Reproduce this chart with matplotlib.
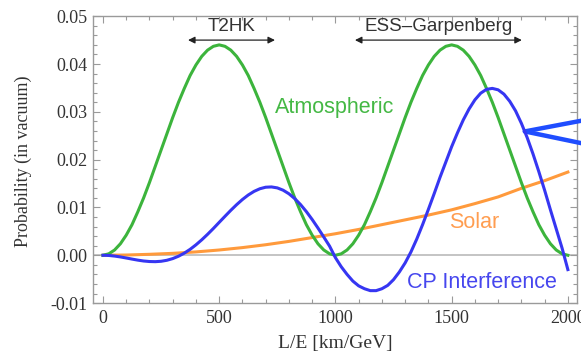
import matplotlib
matplotlib.use('Agg')
import matplotlib.pyplot as plt
from matplotlib.ticker import MultipleLocator, FormatStrFormatter

# L/E grid (km/GeV), every 25
le = [0, 25, 50, 75, 100, 125, 150, 175, 200, 225, 250, 275, 300, 325, 350, 375, 400, 425, 450, 475,
      500, 525, 550, 575, 600, 625, 650, 675, 700, 725, 750, 775, 800, 825, 850, 875, 900, 925, 950, 975,
      1000, 1025, 1050, 1075, 1100, 1125, 1150, 1175, 1200, 1225, 1250, 1275, 1300, 1325, 1350, 1375,
      1400, 1425, 1450, 1475, 1500, 1525, 1550, 1575, 1600, 1625, 1650, 1675, 1700, 1725, 1750, 1775,
      1800, 1825, 1850, 1875, 1900, 1925, 1950, 1975, 2000]

atmospheric = [0, 0.0003, 0.0011, 0.0024, 0.0042, 0.0064, 0.0091, 0.0120, 0.0152, 0.0186,
               0.0220, 0.0254, 0.0288, 0.0320, 0.0349, 0.0376, 0.0398, 0.0416, 0.0429, 0.0437,
               0.0440, 0.0437, 0.0429, 0.0416, 0.0398, 0.0376, 0.0349, 0.0320, 0.0288, 0.0254,
               0.0220, 0.0186, 0.0152, 0.0120, 0.0091, 0.0064, 0.0042, 0.0024, 0.0011, 0.0003,
               0, 0.0003, 0.0011, 0.0024, 0.0042, 0.0064, 0.0091, 0.0120, 0.0152, 0.0186,
               0.0220, 0.0254, 0.0288, 0.0320, 0.0349, 0.0376, 0.0398, 0.0416, 0.0429, 0.0437,
               0.0440, 0.0437, 0.0429, 0.0416, 0.0398, 0.0376, 0.0349, 0.0320, 0.0288, 0.0254,
               0.0220, 0.0186, 0.0152, 0.0120, 0.0091, 0.0064, 0.0042, 0.0024, 0.0011, 0.0003, 0]

cp_interference = [0, -0.00004, -0.00017, -0.00035, -0.00057, -0.0008, -0.00102, -0.0012, -0.00131, -0.00134,
                   -0.00126, -0.00105, -0.0007, -0.0002, 0.00045, 0.00124, 0.00218, 0.00323, 0.00438, 0.0056,
                   0.00688, 0.00815, 0.0094, 0.01058, 0.01166, 0.0126, 0.01336, 0.01391, 0.01423, 0.01429,
                   0.01409, 0.01361, 0.01286, 0.01185, 0.0106, 0.00913, 0.00748, 0.00569, 0.00381, 0.0019,
                   -0.0005, -0.0024, -0.0040, -0.0054, -0.0064, -0.0070, -0.0074, -0.0074, -0.0070, -0.0063,
                   -0.0051, -0.0035, -0.0016, 0.0007, 0.0034, 0.0064, 0.0096, 0.0129, 0.0163, 0.0195,
                   0.0227, 0.0256, 0.0283, 0.0306, 0.0325, 0.0339, 0.0347, 0.0349, 0.0346, 0.0337,
                   0.0322, 0.0302, 0.0276, 0.0246, 0.0212, 0.0175, 0.0136, 0.0095, 0.0055, 0.0015, -0.0030]

le_solar = [0, 100, 200, 300, 400, 500, 600, 700, 800, 900, 1000,
            1100, 1200, 1300, 1400, 1500, 1600, 1700, 1800, 1900, 2000]
solar = [0, 0.00005, 0.0002, 0.0004, 0.0007, 0.0011, 0.0016, 0.0022, 0.0029, 0.0037, 0.0045,
         0.0054, 0.0064, 0.0074, 0.0084, 0.0095, 0.0108, 0.0122, 0.0140, 0.0156, 0.0174]

xticks = [0, 500, 1000, 1500, 2000]
yticks = [-0.01, 0.00, 0.01, 0.02, 0.03, 0.04, 0.05]

green = '#3cb43c'
blue = '#3636f2'
orange = '#ff9a3c'
frame = '#9a9a9a'

fig = plt.figure(figsize=(5.81, 3.52), dpi=100)
ax = fig.add_axes([0.160, 0.139, 0.833, 0.815])

ax.axhline(0, color='#c4c4c4', lw=1.4, zorder=1)
ax.plot(le, atmospheric, color=green, lw=2.2, zorder=3)
ax.plot(le_solar, solar, color=orange, lw=2.2, zorder=2)
ax.plot(le, cp_interference, color=blue, lw=2.2, zorder=4)

ax.set_xlim(-43, 2039)
ax.set_ylim(-0.01, 0.05)
ax.set_xticks(xticks)
ax.set_yticks(yticks)
ax.xaxis.set_minor_locator(MultipleLocator(100))
ax.yaxis.set_minor_locator(MultipleLocator(0.002))
ax.yaxis.set_major_formatter(FormatStrFormatter('%.2f'))

for s in ax.spines.values():
    s.set_color(frame)
    s.set_linewidth(1.0)
ax.tick_params(which='both', direction='in', top=True, right=True, color=frame,
               labelcolor='#333333', labelsize=13, width=0.8)
ax.tick_params(axis='y', which='major', length=5, pad=4)
ax.tick_params(axis='x', which='major', length=5, pad=5)
ax.tick_params(which='minor', length=3)
for lab in ax.get_xticklabels() + ax.get_yticklabels():
    lab.set_family('Liberation Serif')

ax.set_ylabel('Probability (in vacuum)', family='Liberation Serif', fontsize=13, color='#333333')
ax.set_xlabel('L/E [km/GeV]', family='Liberation Serif', fontsize=14, color='#333333')
ax.yaxis.set_label_coords(-0.126, 0.495)
ax.xaxis.set_label_coords(0.5, -0.11)

# experiment ranges
ax.annotate('', xy=(366, 0.045), xytext=(740, 0.045),
            arrowprops=dict(arrowstyle='<|-|>', color='#222222', lw=0.9, mutation_scale=10,
                            shrinkA=0, shrinkB=0))
ax.text(553, 0.0478, 'T2HK', family='Liberation Sans', fontsize=13.5, color='#333333',
        ha='center', va='center')
ax.annotate('', xy=(1084, 0.045), xytext=(1802, 0.045),
            arrowprops=dict(arrowstyle='<|-|>', color='#222222', lw=0.9, mutation_scale=10,
                            shrinkA=0, shrinkB=0))
ax.text(1443, 0.0478, 'ESS\u2013Garpenberg', family='Liberation Sans', fontsize=13.5,
        color='#333333', ha='center', va='center')

# curve labels
ax.text(998, 0.0308, 'Atmospheric', family='Liberation Sans', fontsize=15.5, color='#44b844',
        ha='center', va='center')
ax.text(1596, 0.0069, 'Solar', family='Liberation Sans', fontsize=15.5, color='#ff9d50',
        ha='center', va='center')
ax.text(1630, -0.0056, 'CP Interference', family='Liberation Sans', fontsize=15.5, color='#4646ee',
        ha='center', va='center')

# callout pointing at the CP curve
for ytxt in (0.66, 0.59):
    ax.annotate('', xy=(1815, 0.0259), xycoords='data', xytext=(1.01, ytxt),
                textcoords='figure fraction',
                arrowprops=dict(arrowstyle='-', color='#1f4dff', lw=3.2, shrinkA=0, shrinkB=0),
                annotation_clip=False)

fig.savefig('out.png', dpi=100)
